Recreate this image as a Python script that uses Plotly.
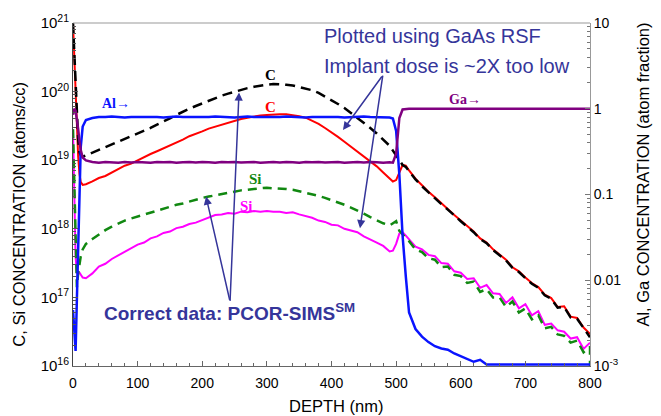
import plotly.graph_objects as go

# ---------------------------------------------------------------------------
# SIMS depth profiles: depth in nm, C / Si as log10(atoms/cc),
# Al / Ga as atom fraction (right axis)
# ---------------------------------------------------------------------------
depth = [
    0, 2, 4, 6, 8, 10, 12, 15,
    20, 30, 40, 50, 60, 70, 80, 90, 100, 110,
    120, 130, 140, 150, 160, 170, 180, 190, 200, 210,
    220, 230, 240, 250, 260, 270, 280, 290, 300, 310,
    320, 330, 340, 350, 360, 370, 380, 390, 400, 410,
    420, 430, 440, 450, 460, 470, 480, 490,
    495, 500, 505, 510, 515, 520,
    530, 540, 550, 560, 570, 580, 590, 600, 610, 620,
    630, 640, 650, 660, 670, 680, 690, 700, 710, 720,
    730, 740, 750, 760, 770, 780, 790, 800,
]

# carbon, quantified with the GaAs RSF (red, solid)
c_gaas_log = [
    21.00, 20.50, 20.00, 19.50, 19.05, 18.80, 18.68, 18.64,
    18.65, 18.69, 18.74, 18.77, 18.82, 18.86, 18.92, 18.95, 19.00, 19.04,
    19.09, 19.13, 19.17, 19.22, 19.26, 19.30, 19.35, 19.38, 19.42, 19.46,
    19.49, 19.52, 19.55, 19.58, 19.60, 19.62, 19.64, 19.65, 19.66, 19.67,
    19.67, 19.67, 19.66, 19.64, 19.62, 19.58, 19.53, 19.47, 19.41, 19.34,
    19.27, 19.20, 19.13, 19.06, 18.99, 18.91, 18.82, 18.73,
    18.69, 18.71, 18.83, 18.93, 18.92, 18.85,
    18.73, 18.63, 18.54, 18.46, 18.37, 18.29, 18.20, 18.12, 18.04, 17.96,
    17.86, 17.80, 17.70, 17.62, 17.55, 17.44, 17.38, 17.29, 17.21, 17.15,
    17.04, 16.99, 16.86, 16.87, 16.72, 16.70, 16.56, 16.47,
]

# carbon, PCOR-SIMS (black, dashed)
c_pcor_log = [
    21.00, 20.55, 20.10, 19.65, 19.30, 19.12, 19.07, 19.05,
    19.07, 19.11, 19.15, 19.19, 19.23, 19.27, 19.31, 19.35, 19.39, 19.43,
    19.47, 19.52, 19.56, 19.61, 19.66, 19.71, 19.75, 19.79, 19.83, 19.87,
    19.91, 19.94, 19.97, 20.00, 20.03, 20.05, 20.07, 20.09, 20.10, 20.11,
    20.11, 20.10, 20.09, 20.07, 20.05, 20.02, 19.98, 19.93, 19.88, 19.82,
    19.76, 19.69, 19.62, 19.55, 19.47, 19.39, 19.30, 19.21,
    19.14, 19.07, 19.00, 18.93, 18.90, 18.84,
    18.72, 18.62, 18.53, 18.45, 18.36, 18.28, 18.19, 18.11, 18.03, 17.95,
    17.85, 17.79, 17.69, 17.61, 17.54, 17.43, 17.37, 17.28, 17.20, 17.14,
    17.03, 16.98, 16.85, 16.86, 16.71, 16.69, 16.55, 16.42,
]

# silicon, quantified with the GaAs RSF (magenta, solid)
si_gaas_log = [
    19.45, 18.60, 17.60, 17.35, 17.38, 17.36, 17.33, 17.29,
    17.28, 17.35, 17.45, 17.49, 17.56, 17.61, 17.67, 17.71, 17.77, 17.80,
    17.86, 17.89, 17.94, 17.96, 18.01, 18.03, 18.07, 18.09, 18.13, 18.16,
    18.20, 18.21, 18.23, 18.22, 18.25, 18.24, 18.26, 18.25, 18.26, 18.25,
    18.25, 18.23, 18.24, 18.21, 18.19, 18.16, 18.12, 18.10, 18.06, 18.05,
    18.00, 17.97, 17.95, 17.89, 17.85, 17.80, 17.75, 17.67,
    17.68, 17.78, 17.93, 17.95, 17.90, 17.85,
    17.74, 17.70, 17.62, 17.60, 17.50, 17.49, 17.38, 17.36, 17.27, 17.28,
    17.14, 17.18, 17.06, 17.05, 16.92, 17.00, 16.84, 16.90, 16.74, 16.80,
    16.60, 16.62, 16.52, 16.50, 16.40, 16.42, 16.25, 16.34,
]

# silicon, PCOR-SIMS (green, dashed); the last point is the drop at 800 nm
depth_si_pcor = depth + [800]
si_pcor_log = [
    19.45, 18.70, 17.80, 17.15, 17.35, 17.50, 17.60, 17.70,
    17.78, 17.85, 17.92, 17.98, 18.03, 18.08, 18.12, 18.15, 18.18, 18.21,
    18.24, 18.27, 18.30, 18.32, 18.35, 18.37, 18.40, 18.42, 18.45, 18.47,
    18.49, 18.51, 18.53, 18.55, 18.56, 18.57, 18.58, 18.59, 18.60, 18.59,
    18.59, 18.58, 18.57, 18.55, 18.53, 18.51, 18.48, 18.45, 18.42, 18.39,
    18.35, 18.31, 18.27, 18.22, 18.17, 18.12, 18.08, 18.05,
    18.08, 18.11, 17.97, 17.92, 17.87, 17.82,
    17.70, 17.66, 17.57, 17.55, 17.44, 17.45, 17.33, 17.31, 17.21, 17.23,
    17.08, 17.12, 17.00, 17.00, 16.86, 16.94, 16.78, 16.84, 16.68, 16.74,
    16.55, 16.57, 16.46, 16.44, 16.34, 16.37, 16.20, 16.28,
    15.00,
]

# aluminium atom fraction (blue)
al_frac = [
    0.0045, 0.0022, 0.0015, 0.006, 0.03, 0.13, 0.36, 0.62,
    0.74, 0.78, 0.80, 0.80, 0.81, 0.80, 0.79, 0.80, 0.80, 0.81,
    0.80, 0.80, 0.79, 0.80, 0.81, 0.80, 0.80, 0.79, 0.80, 0.80,
    0.81, 0.80, 0.80, 0.79, 0.80, 0.81, 0.80, 0.80, 0.80, 0.79,
    0.80, 0.81, 0.80, 0.80, 0.79, 0.80, 0.80, 0.81, 0.80, 0.80,
    0.79, 0.80, 0.80, 0.81, 0.80, 0.80, 0.80, 0.79,
    0.77, 0.55, 0.17, 0.033, 0.011, 0.0042,
    0.0027, 0.0022, 0.0019, 0.0017, 0.0016, 0.00155, 0.0014, 0.0013, 0.00122, 0.00112,
    0.00118, 0.00104, 0.00104, 0.00104, 0.00104, 0.00104, 0.00104, 0.00104, 0.00104, 0.00104,
    0.00104, 0.00104, 0.00104, 0.00104, 0.00104, 0.00104, 0.00104, 0.00104,
]

# gallium atom fraction (purple)
ga_frac = [
    0.85, 1.00, 0.95, 0.78, 0.58, 0.42, 0.33, 0.27,
    0.25, 0.24, 0.235, 0.24, 0.238, 0.235, 0.24, 0.236, 0.24, 0.238,
    0.235, 0.24, 0.237, 0.24, 0.235, 0.238, 0.24, 0.236, 0.24, 0.238,
    0.235, 0.24, 0.237, 0.24, 0.236, 0.238, 0.24, 0.235, 0.238, 0.24,
    0.236, 0.24, 0.238, 0.235, 0.24, 0.237, 0.24, 0.236, 0.238, 0.24,
    0.235, 0.238, 0.24, 0.236, 0.24, 0.238, 0.235, 0.237,
    0.235, 0.30, 0.78, 0.98, 1.00, 1.00,
    1.00, 1.00, 1.00, 1.00, 1.00, 1.00, 1.00, 1.00, 1.00, 1.00,
    1.00, 1.00, 1.00, 1.00, 1.00, 1.00, 1.00, 1.00, 1.00, 1.00,
    1.00, 1.00, 1.00, 1.00, 1.00, 1.00, 1.00, 1.00,
]

left_ticks = [1e16, 1e17, 1e18, 1e19, 1e20, 1e21]
left_tick_text = ["10<sup>16</sup>", "10<sup>17</sup>", "10<sup>18</sup>",
                  "10<sup>19</sup>", "10<sup>20</sup>", "10<sup>21</sup>"]
right_ticks = [1e-3, 1e-2, 1e-1, 1, 10]
right_tick_text = ["10<sup>-3</sup>", "0.01", "0.1", "1", "10"]
x_ticks = [0, 100, 200, 300, 400, 500, 600, 700, 800]


def conc(logs):
    return [10 ** v for v in logs]


SANS = "Liberation Sans, Arial, sans-serif"
SERIF = "Liberation Serif, Times New Roman, serif"
INK = "#35359a"

fig = go.Figure()

# left-axis profiles: solid GaAs-RSF curves underneath, dashed PCOR on top
fig.add_trace(go.Scatter(x=depth, y=conc(c_gaas_log), mode="lines",
                         line=dict(color="#ff0000", width=2)))
fig.add_trace(go.Scatter(x=depth, y=conc(c_pcor_log), mode="lines",
                         line=dict(color="#000000", width=2.5, dash="10px,6px")))
fig.add_trace(go.Scatter(x=depth, y=conc(si_gaas_log), mode="lines",
                         line=dict(color="#ff00ff", width=2)))
fig.add_trace(go.Scatter(x=depth_si_pcor, y=conc(si_pcor_log), mode="lines",
                         line=dict(color="#118811", width=2.5, dash="9px,6px")))

# right-axis matrix fractions
fig.add_trace(go.Scatter(x=depth, y=al_frac, mode="lines", yaxis="y2",
                         line=dict(color="#0a14ff", width=2.5)))
fig.add_trace(go.Scatter(x=depth, y=ga_frac, mode="lines", yaxis="y2",
                         line=dict(color="#800080", width=2.5)))

fig.update_layout(
    width=661, height=416,
    margin=dict(l=73, r=71, t=20, b=50),
    paper_bgcolor="white", plot_bgcolor="white",
    showlegend=False,
    font=dict(family=SANS, color="black"),
    xaxis=dict(
        range=[0, 800], tickvals=x_ticks,
        ticks="inside", ticklen=5, tickcolor="#666", tickwidth=1,
        minor=dict(dtick=20, ticks="inside", ticklen=3, tickcolor="#666"),
        showline=True, linecolor="#666", linewidth=1,
        showgrid=False, zeroline=False, ticklabelstandoff=4,
        tickfont=dict(size=14, family=SANS, color="black"),
    ),
    yaxis=dict(
        type="log", range=[16, 21],
        tickvals=left_ticks, ticktext=left_tick_text,
        ticks="inside", ticklen=5, tickcolor="#555",
        minor=dict(dtick="D1", ticks="inside", ticklen=3, tickcolor="#555"),
        showline=True, linecolor="#444", linewidth=1,
        showgrid=False, zeroline=False,
        tickfont=dict(size=15, family=SANS, color="black"),
    ),
    yaxis2=dict(
        type="log", range=[-3, 1], overlaying="y", side="right",
        tickvals=right_ticks, ticktext=right_tick_text,
        ticks="inside", ticklen=5, tickcolor="#777",
        minor=dict(dtick="D1", ticks="inside", ticklen=3, tickcolor="#777"),
        showline=True, linecolor="#999", linewidth=1,
        showgrid=False, zeroline=False,
        tickfont=dict(size=14, family=SANS, color="black"),
    ),
)

# top frame line
fig.add_shape(type="line", xref="paper", yref="paper", x0=0, x1=1, y0=1, y1=1,
              line=dict(color="#999", width=1))

# axis titles
fig.add_annotation(text="C, Si CONCENTRATION (atoms/cc)", xref="paper", yref="paper",
                   x=-0.104, y=0.442, textangle=-90, showarrow=False,
                   xanchor="center", yanchor="middle",
                   font=dict(size=16.5, family=SANS, color="black"))
fig.add_annotation(text="Al, Ga CONCENTRATION (atom fraction)", xref="paper", yref="paper",
                   x=1.1025, y=0.558, textangle=-90, showarrow=False,
                   xanchor="center", yanchor="middle",
                   font=dict(size=16.5, family=SANS, color="black"))
fig.add_annotation(text="DEPTH (nm)", xref="paper", yref="paper",
                   x=0.509, y=-0.118, showarrow=False,
                   xanchor="center", yanchor="middle",
                   font=dict(size=16.5, family=SANS, color="black"))

# curve labels
curve_labels = [
    ("C", 305, 20.24, "#000000", 15),
    ("C", 305, 19.77, "#ff0000", 15),
    ("Si", 283, 18.73, "#118811", 15),
    ("Si", 269, 18.33, "#ff00ff", 15),
    ("Al\u2192", 66, 19.83, "#0a14ff", 14),
    ("Ga\u2192", 607, 19.89, "#800080", 14),
]
for text, xv, ylog, color, size in curve_labels:
    fig.add_annotation(text="<b>" + text + "</b>", x=xv, y=ylog, xref="x", yref="y",
                       showarrow=False, xanchor="center", yanchor="middle",
                       font=dict(size=size, family=SERIF, color=color))

# callout texts
fig.add_annotation(text="Plotted using GaAs RSF", xref="paper", yref="paper",
                   x=0.4816, y=0.9624, showarrow=False, xanchor="left", yanchor="middle",
                   font=dict(size=20, family=SANS, color=INK))
fig.add_annotation(text="Implant dose is ~2X too low", xref="paper", yref="paper",
                   x=0.4816, y=0.8757, showarrow=False, xanchor="left", yanchor="middle",
                   font=dict(size=20, family=SANS, color=INK))
fig.add_annotation(text="<b>Correct data: PCOR-SIMS<sup>SM</sup></b>", xref="paper", yref="paper",
                   x=0.0561, y=0.1561, showarrow=False, xanchor="left", yanchor="middle",
                   font=dict(size=19, family=SANS, color=INK))

# callout arrows (head position in paper units, tail offset in pixels)
arrows = [
    (0.5222, 0.6879, 40, -55),
    (0.5551, 0.4017, 23, -154),
    (0.3211, 0.7977, -9, 210),
    (0.2573, 0.4942, 24, 105),
]
for hx, hy, tx, ty in arrows:
    fig.add_annotation(text="", xref="paper", yref="paper", x=hx, y=hy,
                       ax=tx, ay=ty, axref="pixel", ayref="pixel",
                       showarrow=True, arrowhead=2, arrowsize=1.1, arrowwidth=1.5,
                       arrowcolor=INK, standoff=0, startstandoff=0)

fig.write_html("out.html")
